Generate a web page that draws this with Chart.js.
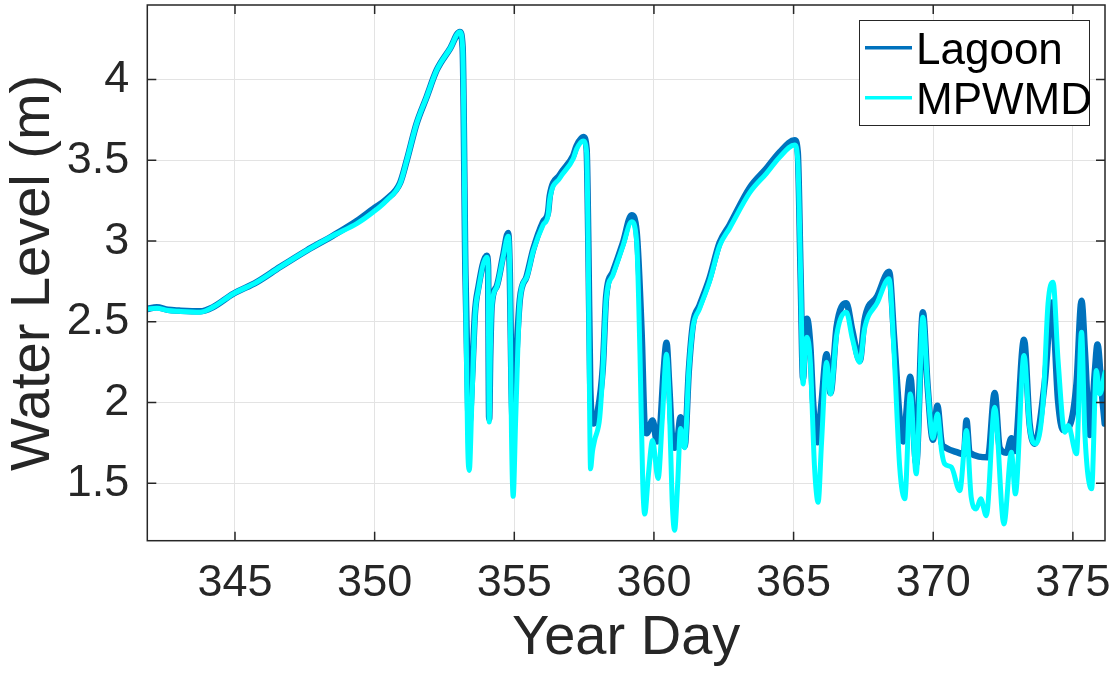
<!DOCTYPE html>
<html>
<head>
<meta charset="utf-8">
<script src="https://cdn.jsdelivr.net/npm/chart.js@4.4.1/dist/chart.umd.min.js"></script>
<style>
  html, body { margin: 0; padding: 0; background: #fff; }
  #wrap { width: 1115px; height: 674px; }
</style>
</head>
<body>
<div id="wrap"><canvas id="levels" width="1115" height="674"></canvas></div>
<script>
// water level readings, year day vs metres
const lagoonDay = [341.86, 342.2, 342.6, 343.0, 343.75, 344.2, 344.94, 345.78, 346.61, 347.57, 348.52, 349.36, 349.95, 350.43, 350.91, 351.15, 351.5, 351.86, 352.22, 352.7, 353.05, 353.15, 353.25, 353.35, 353.39, 353.5, 353.59, 353.71, 354.01, 354.06, 354.1, 354.14, 354.19, 354.37, 354.6, 354.78, 354.84, 354.9, 354.96, 355.05, 355.2, 355.44, 355.68, 356.03, 356.21, 356.27, 356.63, 357.11, 357.23, 357.47, 357.59, 357.65, 357.72, 357.83, 357.99, 358.17, 358.29, 358.53, 358.89, 359.2, 359.38, 359.56, 359.67, 359.74, 359.95, 360.11, 360.2, 360.35, 360.45, 360.55, 360.65, 360.74, 360.85, 360.95, 361.1, 361.25, 361.4, 361.63, 361.99, 362.35, 362.71, 363.43, 364.03, 364.5, 365.04, 365.15, 365.25, 365.34, 365.42, 365.48, 365.6, 365.7, 365.86, 366.0, 366.18, 366.32, 366.54, 366.89, 367.1, 367.37, 367.54, 368.0, 368.42, 368.6, 368.8, 368.92, 369.18, 369.39, 369.63, 369.8, 369.99, 370.15, 370.3, 370.41, 370.89, 371.1, 371.19, 371.3, 371.96, 372.2, 372.38, 372.62, 372.8, 372.92, 373.25, 373.45, 373.63, 373.99, 374.25, 374.47, 374.65, 374.89, 375.13, 375.31, 375.43, 375.61, 375.79, 375.88, 376.03, 376.14];
const lagoonLevel = [2.58, 2.59, 2.575, 2.57, 2.565, 2.59, 2.674, 2.746, 2.839, 2.942, 3.035, 3.125, 3.2, 3.26, 3.36, 3.5, 3.727, 3.892, 4.058, 4.192, 4.295, 4.2, 2.8, 1.95, 1.87, 2.2, 2.55, 2.71, 2.91, 2.85, 1.9, 2.3, 2.6, 2.72, 2.91, 3.05, 2.8, 2.1, 1.83, 2.2, 2.64, 2.78, 2.95, 3.12, 3.18, 3.28, 3.41, 3.53, 3.59, 3.645, 3.57, 3.0, 2.1, 1.87, 1.95, 2.22, 2.66, 2.81, 2.99, 3.16, 3.06, 2.43, 1.85, 1.81, 1.89, 1.76, 1.8, 2.2, 2.37, 2.1, 1.78, 1.72, 1.78, 1.91, 1.73, 2.2, 2.49, 2.6, 2.77, 2.99, 3.1, 3.33, 3.45, 3.55, 3.625, 3.55, 2.8, 2.15, 2.45, 2.52, 2.35, 2.0, 1.755, 2.0, 2.3, 2.06, 2.47, 2.615, 2.45, 2.26, 2.51, 2.66, 2.81, 2.4, 1.9, 1.76, 2.16, 1.62, 2.56, 2.1, 1.77, 1.98, 1.75, 1.724, 1.69, 1.68, 1.89, 1.69, 1.662, 2.06, 1.72, 1.69, 1.78, 1.7, 2.39, 1.87, 1.745, 2.12, 2.62, 2.01, 1.83, 1.86, 2.12, 2.63, 2.32, 1.8, 2.2, 2.36, 2.07, 1.87];

const mpwmdDay = [341.86, 342.2, 342.6, 343.0, 343.75, 344.2, 344.94, 345.78, 346.61, 347.57, 348.52, 349.36, 349.95, 350.43, 350.91, 351.15, 351.5, 351.86, 352.22, 352.7, 353.05, 353.15, 353.25, 353.33, 353.39, 353.48, 353.59, 353.71, 354.01, 354.06, 354.1, 354.14, 354.19, 354.37, 354.6, 354.78, 354.84, 354.9, 354.96, 355.05, 355.2, 355.44, 355.68, 356.03, 356.21, 356.27, 356.63, 357.11, 357.23, 357.47, 357.59, 357.65, 357.7, 357.73, 357.8, 357.88, 358.06, 358.17, 358.29, 358.53, 358.89, 359.2, 359.38, 359.5, 359.6, 359.67, 359.8, 359.95, 360.15, 360.3, 360.45, 360.55, 360.65, 360.74, 360.85, 360.95, 361.1, 361.25, 361.4, 361.63, 361.99, 362.35, 362.71, 363.43, 364.03, 364.5, 365.04, 365.15, 365.25, 365.34, 365.42, 365.48, 365.6, 365.75, 365.88, 366.0, 366.18, 366.32, 366.54, 366.89, 367.1, 367.37, 367.54, 368.0, 368.42, 368.6, 368.8, 368.98, 369.18, 369.39, 369.63, 369.8, 369.99, 370.15, 370.3, 370.41, 370.65, 370.95, 371.19, 371.36, 371.54, 371.7, 371.9, 372.2, 372.53, 372.8, 372.94, 373.25, 373.45, 373.66, 373.93, 374.11, 374.29, 374.47, 374.71, 374.83, 375.13, 375.31, 375.43, 375.67, 375.84, 375.96, 376.15];
const mpwmdLevel = [2.58, 2.585, 2.57, 2.565, 2.56, 2.59, 2.674, 2.746, 2.839, 2.942, 3.035, 3.108, 3.18, 3.252, 3.356, 3.5, 3.727, 3.892, 4.058, 4.192, 4.295, 4.2, 2.8, 1.75, 1.58, 2.0, 2.53, 2.695, 2.9, 2.85, 1.88, 2.3, 2.59, 2.715, 2.9, 3.03, 2.8, 1.8, 1.42, 1.9, 2.63, 2.775, 2.94, 3.1, 3.16, 3.26, 3.39, 3.51, 3.57, 3.62, 3.55, 2.9, 1.9, 1.59, 1.7, 1.77, 1.91, 2.2, 2.64, 2.79, 2.97, 3.12, 3.0, 2.3, 1.5, 1.31, 1.55, 1.765, 1.53, 1.9, 2.3, 2.0, 1.4, 1.21, 1.5, 1.84, 1.72, 2.2, 2.47, 2.58, 2.75, 2.97, 3.08, 3.3, 3.42, 3.52, 3.595, 3.5, 2.8, 2.116, 2.35, 2.405, 2.25, 1.6, 1.383, 1.75, 2.25, 2.054, 2.416, 2.56, 2.4, 2.25, 2.457, 2.62, 2.767, 2.3, 1.6, 1.404, 2.054, 1.559, 2.529, 2.1, 1.78, 1.93, 1.7, 1.621, 1.6, 1.455, 1.827, 1.414, 1.342, 1.404, 1.3, 1.972, 1.249, 1.693, 1.435, 2.292, 1.848, 1.745, 1.993, 2.612, 2.746, 2.261, 1.817, 1.858, 1.683, 2.436, 1.807, 1.466, 2.199, 2.054, 2.188];

const xTicks = [345, 350, 355, 360, 365, 370, 375];
const yTicks = [1.5, 2, 2.5, 3, 3.5, 4];
const seriesNames = ['Lagoon', 'MPWMD'];
const seriesColors = ['#0072bd', '#00ffff'];

const FONT = '"Liberation Sans", Arial, Helvetica, sans-serif';
const INK = '#262626';

function pairs(days, vals) {
  return days.map((d, i) => ({ x: d, y: vals[i] }));
}

// matlab style box with inward ticks, plus the legend in the corner
const matlabFrame = {
  id: 'matlabFrame',
  afterDatasetsDraw(chart) {
    const ctx = chart.ctx;
    const a = chart.chartArea;
    const xs = chart.scales.x, ys = chart.scales.y;
    ctx.save();
    ctx.strokeStyle = INK;
    ctx.lineWidth = 1.5;
    ctx.strokeRect(a.left, a.top, a.right - a.left, a.bottom - a.top);
    ctx.beginPath();
    xTicks.forEach(v => {
      const px = xs.getPixelForValue(v);
      ctx.moveTo(px, a.bottom); ctx.lineTo(px, a.bottom - 9);
      ctx.moveTo(px, a.top); ctx.lineTo(px, a.top + 9);
    });
    yTicks.forEach(v => {
      const py = ys.getPixelForValue(v);
      ctx.moveTo(a.left, py); ctx.lineTo(a.left + 9, py);
      ctx.moveTo(a.right, py); ctx.lineTo(a.right - 9, py);
    });
    ctx.stroke();

    // legend
    const bx = 859, by = 20, bw = 230, bh = 105;
    ctx.fillStyle = '#fff';
    ctx.fillRect(bx, by, bw, bh);
    ctx.lineWidth = 1;
    ctx.strokeStyle = INK;
    ctx.strokeRect(bx + 0.5, by + 0.5, bw, bh);
    ctx.font = '44px ' + FONT;
    ctx.textBaseline = 'alphabetic';
    ctx.textAlign = 'left';
    seriesNames.forEach((name, i) => {
      const ly = 47.7 + i * 50;
      ctx.strokeStyle = seriesColors[i];
      ctx.lineWidth = 3.5;
      ctx.beginPath();
      ctx.moveTo(865, ly); ctx.lineTo(912, ly);
      ctx.stroke();
      ctx.fillStyle = '#000';
      ctx.fillText(name, 916, ly + 15.8);
    });
    ctx.restore();
  }
};

new Chart(document.getElementById('levels'), {
  type: 'line',
  data: {
    datasets: [
      {
        label: seriesNames[0],
        data: pairs(lagoonDay, lagoonLevel),
        borderColor: seriesColors[0],
        borderWidth: 6.5,
        order: 1
      },
      {
        label: seriesNames[1],
        data: pairs(mpwmdDay, mpwmdLevel),
        borderColor: seriesColors[1],
        borderWidth: 5,
        order: 0
      }
    ]
  },
  options: {
    responsive: false,
    animation: false,
    devicePixelRatio: 1,
    layout: { padding: { top: 5, right: 10, left: 0, bottom: 0 } },
    elements: {
      point: { radius: 0, hoverRadius: 0 },
      line: { cubicInterpolationMode: 'monotone', borderJoinStyle: 'round', borderCapStyle: 'round', fill: false }
    },
    plugins: { legend: { display: false }, tooltip: { enabled: false } },
    scales: {
      x: {
        type: 'linear',
        min: 341.86,
        max: 376.15,
        afterBuildTicks: s => { s.ticks = xTicks.map(v => ({ value: v })); },
        afterFit: s => { s.height = 133.3; s.paddingLeft = 0; s.paddingRight = 0; },
        grid: { color: '#e3e3e3', lineWidth: 1, drawTicks: false },
        border: { display: false },
        ticks: { color: INK, font: { family: FONT, size: 45 }, padding: 16, maxRotation: 0, callback: v => String(v) },
        title: { display: true, text: 'Year Day', color: INK, font: { family: FONT, size: 56 }, padding: { top: 0, bottom: 2 } }
      },
      y: {
        type: 'linear',
        min: 1.145,
        max: 4.462,
        afterBuildTicks: s => { s.ticks = yTicks.map(v => ({ value: v })); },
        afterFit: s => { s.width = 147.3; s.paddingTop = 0; s.paddingBottom = 0; },
        grid: { color: '#e3e3e3', lineWidth: 1, drawTicks: false },
        border: { display: false },
        ticks: { color: INK, font: { family: FONT, size: 45 }, padding: 18, callback: v => String(v) },
        title: { display: true, text: 'Water Level (m)', color: INK, font: { family: FONT, size: 56 }, padding: { top: 0, bottom: 0 } }
      }
    }
  },
  plugins: [matlabFrame]
});
</script>
</body>
</html>
